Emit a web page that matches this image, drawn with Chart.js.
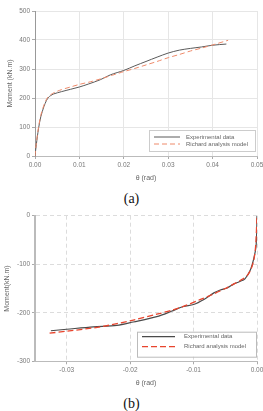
<!DOCTYPE html>
<html><head><meta charset="utf-8">
<script src="https://cdn.jsdelivr.net/npm/chart.js@4.4.1/dist/chart.umd.min.js"></script>
<style>
html,body{margin:0;padding:0;background:#fff;width:263px;height:411px;overflow:hidden;position:relative;}
.wrap{position:absolute;left:0;width:263px;}
.cap{position:absolute;left:0;width:263px;text-align:center;font-family:"Liberation Serif","Times New Roman",serif;font-size:14px;color:#111;line-height:14px;}
</style></head><body>
<div class="wrap" style="top:0;height:190px;"><canvas id="ca" width="263" height="190"></canvas></div>
<div class="cap" style="top:192px;">(a)</div>
<div class="wrap" style="top:205px;height:185px;"><canvas id="cb" width="263" height="185"></canvas></div>
<div class="cap" style="top:397px;">(b)</div>
<script>
// ---- Chart (a) data ----
const expA_theta = [0, 0.0003, 0.0008, 0.0013, 0.002, 0.0026, 0.0031, 0.0035, 0.0042, 0.006, 0.008, 0.010, 0.012, 0.0147, 0.017, 0.020, 0.0225, 0.025, 0.0275, 0.030, 0.0325, 0.035, 0.0375, 0.040, 0.0431];
const expA_moment = [0, 40, 95, 135, 170, 192, 203, 208, 214, 222, 230, 238, 248, 263, 280, 295, 311, 326, 341, 355, 365, 371, 376, 382, 386];
const ricA_theta = [0, 0.0003, 0.0008, 0.0013, 0.002, 0.0026, 0.0031, 0.0036, 0.0045, 0.006, 0.008, 0.010, 0.0125, 0.015, 0.0175, 0.020, 0.0225, 0.025, 0.0275, 0.030, 0.0325, 0.035, 0.0375, 0.040, 0.0435];
const ricA_moment = [0, 45, 100, 140, 175, 196, 206, 212, 220, 229, 238, 247, 256, 267, 279, 291, 302, 314, 326, 339, 350, 362, 372, 383, 399];
const ticksA_x = [0, 0.01, 0.02, 0.03, 0.04, 0.05];
const ticksA_y = [0, 100, 200, 300, 400, 500];
const labelsA = ['Experimental data', 'Richard analysis model'];

// ---- Chart (b) data ----
const expB_theta = [-0.0325, -0.030, -0.0258, -0.0221, -0.0195, -0.0158, -0.0135, -0.0116, -0.010, -0.0083, -0.0068, -0.0058, -0.0047, -0.0037, -0.0028, -0.0019, -0.00105, -0.0005, -0.00016, -0.00005, 0];
const expB_moment = [-237, -234, -229, -226, -219, -208, -197, -187, -183, -172, -159, -153, -149, -141, -136, -130, -112, -88, -64, -35, 0];
const ricB_theta = [-0.0327, -0.030, -0.0247, -0.0195, -0.0158, -0.0135, -0.0116, -0.009, -0.0068, -0.005, -0.0037, -0.0026, -0.0016, -0.001, -0.0005, -0.0002, 0];
const ricB_moment = [-242, -238, -229, -215, -203, -195, -187, -173, -161, -150, -141, -133, -124, -112, -91, -60, 0];
const ticksB_x = [-0.03, -0.02, -0.01, 0];
const ticksB_y = [-300, -200, -100, 0];
const labelsB = ['Experimental data', 'Richard analysis model'];

const FONT = "'Liberation Sans', Arial, sans-serif";
const toXY = (xs, ys) => xs.map((x, i) => ({x: x, y: ys[i]}));

function fixedTicks(vals){ return function(scale){ scale.ticks = vals.map(v => ({value: v})); }; }

const legendPlugin = {
  id: 'boxLegend',
  afterDraw(chart, args, opts) {
    const ctx = chart.ctx, ca = chart.chartArea;
    const x0 = ca.left + opts.x, y0 = ca.top + opts.y;
    ctx.save();
    ctx.fillStyle = '#fff';
    ctx.fillRect(x0, y0, opts.w, opts.h);
    ctx.strokeStyle = opts.border;
    ctx.lineWidth = 1;
    ctx.strokeRect(x0 + 0.5, y0 + 0.5, opts.w, opts.h);
    chart.data.datasets.forEach((ds, i) => {
      const yy = y0 + opts.rows[i];
      ctx.beginPath();
      ctx.strokeStyle = ds.borderColor;
      ctx.lineWidth = ds.borderWidth;
      ctx.setLineDash(ds.borderDash || []);
      ctx.moveTo(x0 + opts.lx0, yy);
      ctx.lineTo(x0 + opts.lx1, yy);
      ctx.stroke();
      ctx.setLineDash([]);
      ctx.fillStyle = '#666';
      ctx.font = opts.font + 'px ' + FONT;
      ctx.textBaseline = 'middle';
      ctx.fillText(ds.label, x0 + opts.tx, yy);
    });
    ctx.restore();
  }
};

function makeChart(id, cfg) {
  return new Chart(document.getElementById(id), {
    type: 'scatter',
    data: {
      datasets: [
        {label: cfg.labels[0], data: cfg.exp, showLine: true, borderColor: cfg.expColor, borderWidth: cfg.expW, pointRadius: 0, tension: 0.3, order: 2},
        {label: cfg.labels[1], data: cfg.ric, showLine: true, borderColor: cfg.ricColor, borderWidth: cfg.ricW, borderDash: cfg.dash, pointRadius: 0, tension: 0.3, order: 1}
      ]
    },
    options: {
      responsive: false, animation: false,
      layout: {padding: {left: 0, right: cfg.padRight, top: cfg.padTop, bottom: 0}},
      plugins: {legend: {display: false}, tooltip: {enabled: false}, boxLegend: cfg.legend},
      scales: {
        x: {
          type: 'linear', min: cfg.xmin, max: cfg.xmax,
          afterBuildTicks: fixedTicks(cfg.xticks),
          afterFit(s){ s.height = cfg.xh; s.paddingLeft = 0; s.paddingRight = 0; },
          grid: {color: cfg.gridColor, lineWidth: 1, tickLength: 3, tickColor: '#aaa', drawTicks: true},
          border: {display: true, color: cfg.xBorder, width: 1, dash: cfg.gridDash},
          ticks: {color: '#777', font: {family: FONT, size: 6.5}, padding: 2, maxRotation: 0, autoSkip: false,
                  callback: v => v.toFixed(2)},
          title: {display: true, text: 'θ (rad)', color: '#666', font: {family: FONT, size: 7}, padding: {top: 0, bottom: cfg.xtPad}}
        },
        y: {
          type: 'linear', min: cfg.ymin, max: cfg.ymax,
          afterBuildTicks: fixedTicks(cfg.yticks),
          afterFit(s){ s.width = cfg.yw; s.paddingTop = 0; s.paddingBottom = 0; },
          grid: {color: cfg.gridColor, lineWidth: 1, tickLength: 3, tickColor: '#aaa'},
          border: {display: true, color: cfg.yBorder, width: cfg.yBorderW, dash: cfg.gridDash},
          ticks: {color: '#777', font: {family: FONT, size: 6.5}, padding: 2, autoSkip: false,
                  callback: v => String(v)},
          title: {display: true, text: cfg.ytitle, color: '#666', font: {family: FONT, size: 7}, padding: {top: cfg.ytPad, bottom: 0}}
        }
      }
    },
    plugins: [legendPlugin, {
      id: 'dashGrid',
      beforeInit(chart){
        if (cfg.gridDash) {
          chart.options.scales.x.grid.borderDash = cfg.gridDash;
        }
      }
    }]
  });
}

makeChart('ca', {
  labels: labelsA,
  exp: toXY(expA_theta, expA_moment), ric: toXY(ricA_theta, ricA_moment),
  expColor: '#5a5a5a', expW: 1, ricColor: '#ee8a6a', ricW: 1, dash: [5, 3],
  xmin: 0, xmax: 0.05, ymin: 0, ymax: 500, xticks: ticksA_x, yticks: ticksA_y,
  padRight: 6, padTop: 11, xh: 34, yw: 35, xtPad: 7.8, ytPad: 5.8,
  gridColor: '#e6e6e6', gridDash: null, xBorder: '#bbb', yBorder: '#999', yBorderW: 1,
  ytitle: 'Moment (kN.m)',
  legend: {x: 114, y: 119, w: 106, h: 21, border: '#ccc', rows: [7, 14], lx0: 5, lx1: 31, tx: 37, font: 6}
});

makeChart('cb', {
  labels: labelsB,
  exp: toXY(expB_theta, expB_moment), ric: toXY(ricB_theta, ricB_moment),
  expColor: '#4a4a4a', expW: 1.2, ricColor: '#e8452e', ricW: 1.3, dash: [6, 3],
  xmin: -0.035, xmax: 0, ymin: -300, ymax: 0, xticks: ticksB_x, yticks: ticksB_y,
  padRight: 6, padTop: 10.7, xh: 28.7, yw: 35, xtPad: 3.1, ytPad: 3.1,
  gridColor: '#dcdcdc', gridDash: [4, 3], xBorder: '#bbb', yBorder: '#bbb', yBorderW: 2,
  ytitle: 'Moment(kN.m)',
  legend: {x: 102, y: 116, w: 119, h: 25, border: '#bbb', rows: [5, 15], lx0: 5, lx1: 38, tx: 47, font: 6}
});
</script>
</body></html>
